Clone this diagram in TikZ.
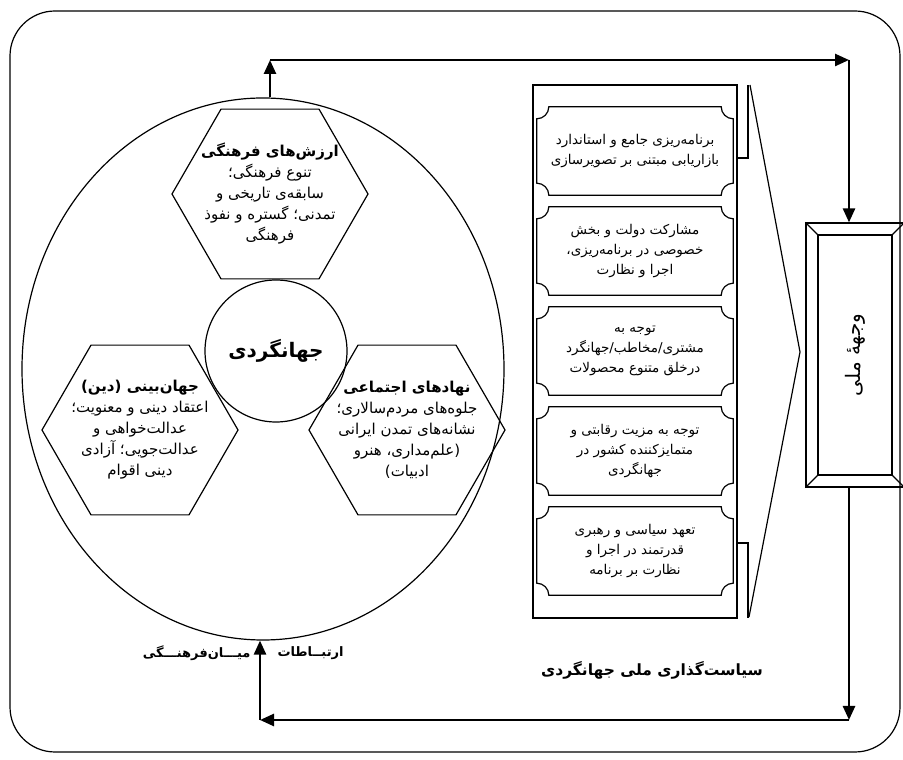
\documentclass[tikz,border=0pt]{standalone}
\usepackage{fontspec}
\newfontfamily\arabicfont[Script=Arabic]{DejaVu Sans}
\TeXXeTstate=1
\usetikzlibrary{shapes.geometric,arrows.meta,calc}
\newcommand{\fa}[1]{\beginR #1\endR}
\begin{document}
\begin{tikzpicture}[x=1pt,y=1pt,
  hexa/.style={draw,line width=1.2pt,regular polygon,regular polygon sides=6,minimum size=196pt,inner sep=0pt},
  hextext/.style={align=center,font=\arabicfont\fontsize{15}{21}\selectfont},
  notched/.style={minimum width=196pt,minimum height=88pt,inner sep=0pt,align=center,font=\arabicfont\fontsize{13.5}{20}\selectfont},
  flow/.style={line width=2.5pt,-{Triangle[length=14pt,width=12pt]}},
  boldfa/.style={font=\arabicfont\bfseries\fontsize{13}{15}\selectfont}]
\useasboundingbox (0,0) rectangle (903,760);
\draw[line width=1.2pt,rounded corners=45pt] (10,8) rectangle (900,749);
\coordinate (tl) at (270,700);
\coordinate (tr) at (849,700);
\coordinate (br) at (849,40);
\coordinate (bl) at (260,40);
% the cultural circle
\node[draw,ellipse,line width=1.2pt,minimum width=482pt,minimum height=542pt,inner sep=0pt] (ring) at (263,391) {};
\node[hexa] (values) at (270,566) {};
\node[hexa] (worldview) at (140,330) {};
\node[hexa] (institutions) at (407,330) {};
\node[draw,circle,line width=1.2pt,minimum size=142pt,inner sep=0pt,font=\arabicfont\bfseries\fontsize{20}{22}\selectfont] (tourism) at (276,409) {\fa{جهانگردی}};
\node[hextext] (valuestext) at (values.center) {{\bfseries\fa{ارزش^^^^200cهای فرهنگی}}\\ \fa{تنوع فرهنگی؛}\\ \fa{سابقه^^^^200cی تاریخی و}\\ \fa{تمدنی؛ گستره و نفوذ}\\ \fa{فرهنگی}};
\node[hextext] (worldviewtext) at (worldview.center) {{\bfseries\fa{جهان^^^^200cبینی (دین)}}\\ \fa{اعتقاد دینی و معنویت؛}\\ \fa{عدالت^^^^200cخواهی و}\\ \fa{عدالت^^^^200cجویی؛ آزادی}\\ \fa{دینی اقوام}};
\node[hextext] (institutionstext) at (institutions.center) {{\bfseries\fa{نهادهای اجتماعی}}\\ \fa{جلوه^^^^200cهای مردم^^^^200cسالاری؛}\\ \fa{نشانه^^^^200cهای تمدن ایرانی}\\ \fa{(علم^^^^200cمداری، هنرو}\\ \fa{ادبیات)}};
% the policy scroll
\draw[line width=1.2pt] (533,142) rectangle (737,675);
\draw[line width=1.2pt] (737,675) -- (737,602) -- (748,602) -- (748,675);
\draw[line width=1.2pt] (737,142) -- (737,217) -- (748,217) -- (748,142);
\draw[line width=1.2pt] (750,675) -- (800,408) -- (749,143);
\node[notched] (p1) at (635,609) {\fa{برنامه^^^^200cریزی جامع و استاندارد}\\ \fa{بازاریابی مبتنی بر تصویرسازی}};
\node[notched] (p2) at (635,509) {\fa{مشارکت  دولت  و بخش}\\ \fa{خصوصی در برنامه^^^^200cریزی،}\\ \fa{اجرا و نظارت}};
\node[notched] (p3) at (635,409) {\fa{توجه به}\\ \fa{مشتری/مخاطب/جهانگرد}\\ \fa{درخلق متنوع محصولات}};
\node[notched] (p4) at (635,309) {\fa{توجه به مزیت رقابتی و}\\ \fa{متمایزکننده کشور در}\\ \fa{جهانگردی}};
\node[notched] (p5) at (635,209) {\fa{تعهد سیاسی و رهبری}\\ \fa{قدرتمند  در اجرا و}\\ \fa{نظارت بر برنامه}};
\foreach \b in {p1,p2,p3,p4,p5}
  \draw[line width=1.2pt] ($(\b.north west)+(12,0)$) -- ($(\b.north east)+(-12,0)$)
    arc[start angle=180,end angle=270,radius=12pt] -- ($(\b.south east)+(0,12)$)
    arc[start angle=90,end angle=180,radius=12pt] -- ($(\b.south west)+(12,0)$)
    arc[start angle=0,end angle=90,radius=12pt] -- ($(\b.north west)+(0,-12)$)
    arc[start angle=270,end angle=360,radius=12pt] -- cycle;
% national image
\node[draw,line width=1.2pt,minimum width=98pt,minimum height=264pt,inner sep=0pt] (face) at (855,405) {};
\node[draw,line width=1.2pt,minimum width=74pt,minimum height=240pt,inner sep=0pt] (facein) at (855,405) {};
\foreach \c in {north west,north east,south west,south east}
  \draw[line width=1.2pt] (face.\c) -- (facein.\c);
\node[rotate=90,font=\arabicfont\fontsize{20}{22}\selectfont] (facelabel) at (facein.center) {\fa{وجهه^^^^0654 ملی}};
% arrows
\draw[flow] (ring.north -| tl) -- (tl);
\draw[flow] (tl) -- (tr);
\draw[flow] (tr) -- (tr |- face.north);
\draw[flow] (br |- face.south) -- (br);
\draw[flow] (br) -- (bl);
\draw[flow] (bl) -- (bl |- ring.south);
\node[boldfa,anchor=east] (across) at (254,107) {\fa{میـــان^^^^200cفرهنـــگی}};
\node[boldfa,anchor=west] (links) at (274,107) {\fa{ارتبــاطات}};
\node[boldfa,font=\arabicfont\bfseries\fontsize{15.5}{17}\selectfont] (policy) at (652,90) {\fa{سیاست^^^^200cگذاری ملی جهانگردی}};
\end{tikzpicture}
\end{document}
